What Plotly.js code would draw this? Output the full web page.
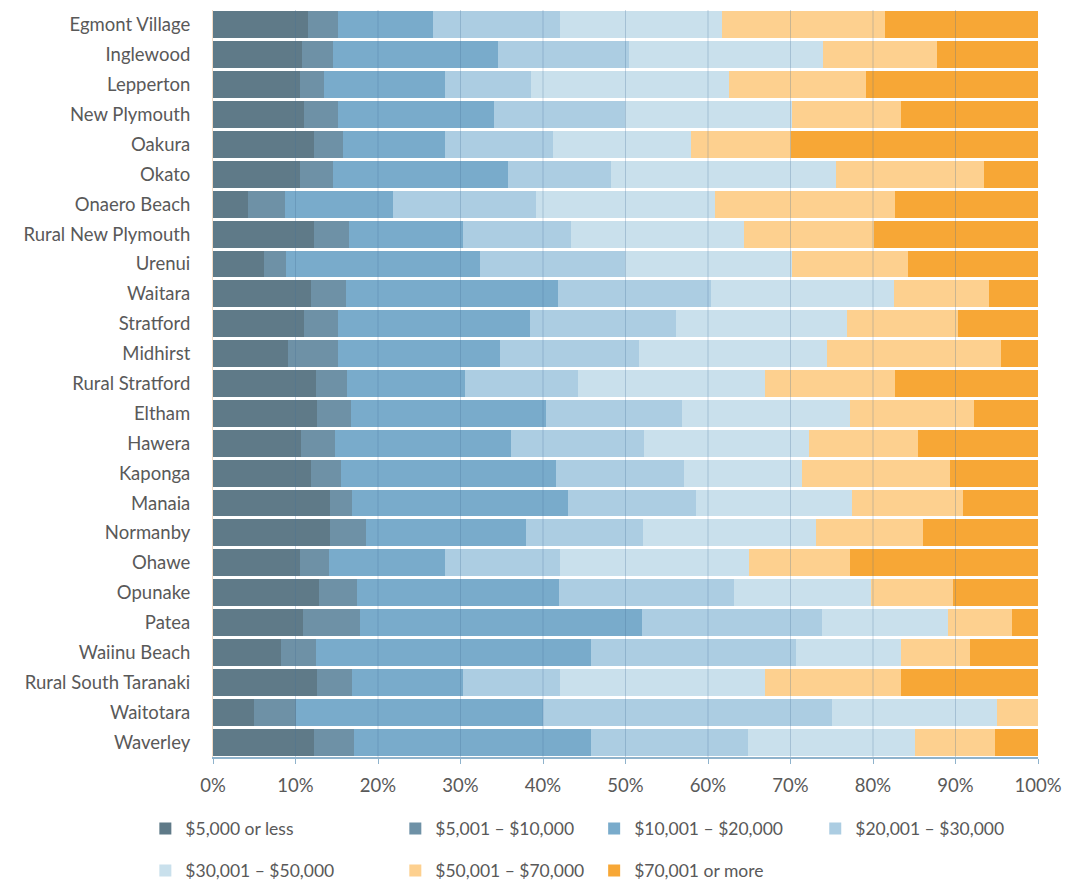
<!DOCTYPE html>
<html>
<head>
<meta charset="utf-8">
<script src="https://cdn.plot.ly/plotly-3.0.1.min.js"></script>
<style>
  html, body { margin: 0; padding: 0; background: #ffffff; }
  #chart { width: 1067px; height: 883px; }
</style>
</head>
<body>
<div id="chart"></div>
<script>
// Personal income bands by locality (share of residents, %)
const localities = [
  "Egmont Village", "Inglewood", "Lepperton", "New Plymouth", "Oakura", "Okato",
  "Onaero Beach", "Rural New Plymouth", "Urenui", "Waitara", "Stratford", "Midhirst",
  "Rural Stratford", "Eltham", "Hawera", "Kaponga", "Manaia", "Normanby", "Ohawe",
  "Opunake", "Patea", "Waiinu Beach", "Rural South Taranaki", "Waitotara", "Waverley"
];

const bandNames = [
  "$5,000 or less", "$5,001 – $10,000", "$10,001 – $20,000", "$20,001 – $30,000",
  "$30,001 – $50,000", "$50,001 – $70,000", "$70,001 or more"
];

const upTo5k    = [11.5,10.8,10.5,11.0,12.2,10.5,4.3,12.3,6.2,11.9,11.0,9.1,12.5,12.6,10.7,11.9,14.2,14.2,10.5,12.8,10.9,8.3,12.6,5.0,12.3];
const to10k     = [3.6,3.7,3.0,4.1,3.6,4.1,4.4,4.2,2.6,4.2,4.1,6.0,3.7,4.1,4.1,3.6,2.7,4.3,3.6,4.6,6.9,4.2,4.2,5.0,4.8];
const to20k     = [11.6,20.0,14.6,19.0,12.3,21.2,13.1,13.8,23.6,25.7,23.3,19.7,14.3,23.7,21.3,26.1,26.1,19.4,14.0,24.5,34.2,33.3,13.5,30.0,28.7];
const to30k     = [15.3,15.9,10.5,15.8,13.1,12.5,17.4,13.1,17.5,18.6,17.7,16.8,13.8,16.5,16.1,15.5,15.6,14.2,14.0,21.2,21.8,24.9,11.8,35.0,19.0];
const to50k     = [19.7,23.5,23.9,20.3,16.7,27.2,21.6,21.0,20.3,22.1,20.7,22.8,22.6,20.3,20.0,14.3,18.9,21.0,22.9,16.7,15.3,12.7,24.8,20.0,20.3];
const to70k     = [19.8,13.9,16.7,13.2,12.2,18.0,21.9,15.7,14.1,11.6,13.5,21.1,15.8,15.1,13.2,17.9,13.4,13.0,12.2,9.9,7.8,8.3,16.5,5.0,9.7];
const over70k   = [18.5,12.2,20.8,16.6,29.9,6.5,17.3,19.9,15.7,5.9,9.7,4.5,17.3,7.7,14.6,10.7,9.1,13.9,22.8,10.3,3.1,8.3,16.6,0.0,5.2];

const bandValues = [upTo5k, to10k, to20k, to30k, to50k, to70k, over70k];
const bandColors = ["#5f7a88", "#6e91a6", "#79abcb", "#accde2", "#c9e0ec", "#fdd08f", "#f7a736"];

const xTicks = [0, 10, 20, 30, 40, 50, 60, 70, 80, 90, 100];

// each band gets its own legend box so the two legend rows line up in columns
const legendPos = [
  {x: -0.082, y: -0.096}, {x: 0.221, y: -0.096}, {x: 0.462, y: -0.096}, {x: 0.730, y: -0.096},
  {x: -0.082, y: -0.152}, {x: 0.221, y: -0.152}, {x: 0.462, y: -0.152}
];

const font = "Lato, 'Open Sans', sans-serif";
const textColor = "#595959";

const traces = bandNames.map((name, i) => ({
  type: "bar",
  orientation: "h",
  name: name,
  y: localities,
  x: bandValues[i],
  marker: { color: bandColors[i], line: { width: 0 } },
  legend: i === 0 ? "legend" : "legend" + (i + 1),
  hovertemplate: "%{y}<br>" + name + ": %{x:.1f}%<extra></extra>"
}));

const layout = {
  width: 1067,
  height: 883,
  margin: { l: 213, r: 29, t: 10, b: 126, autoexpand: false },
  paper_bgcolor: "#ffffff",
  plot_bgcolor: "#ffffff",
  barmode: "stack",
  bargap: 0.1,
  font: { family: font, size: 18, color: textColor },
  xaxis: {
    range: [0, 100],
    tickvals: xTicks,
    ticktext: xTicks.map(v => v + "%"),
    showgrid: false,
    zeroline: false,
    showline: true,
    linecolor: "#8fb3cc",
    linewidth: 1.5,
    ticks: "outside",
    ticklen: 5,
    tickcolor: "#8fb3cc",
    ticklabelstandoff: 6,
    tickfont: { family: font, size: 18.5, color: textColor },
    fixedrange: true
  },
  yaxis: {
    type: "category",
    autorange: "reversed",
    showgrid: false,
    zeroline: false,
    showline: true,
    linecolor: "#f3dcc6",
    linewidth: 1,
    ticks: "",
    ticklabelstandoff: 18,
    tickfont: { family: font, size: 18.5, color: textColor },
    fixedrange: true
  },
  // vertical grid lines drawn over the bars
  shapes: xTicks.slice(1, -1).map(v => ({
    type: "line",
    layer: "above",
    xref: "x", yref: "paper",
    x0: v, x1: v, y0: 0, y1: 1,
    line: { color: "rgba(70,110,150,0.28)", width: 1 }
  })),
  showlegend: true
};

legendPos.forEach((p, i) => {
  const key = i === 0 ? "legend" : "legend" + (i + 1);
  layout[key] = {
    x: p.x, y: p.y,
    xanchor: "left", yanchor: "middle",
    orientation: "h",
    bgcolor: "rgba(0,0,0,0)",
    borderwidth: 0,
    itemwidth: 30,
    font: { family: font, size: 17.5, color: textColor }
  };
});

Plotly.newPlot("chart", traces, layout, { displayModeBar: false, staticPlot: true });
</script>
</body>
</html>
